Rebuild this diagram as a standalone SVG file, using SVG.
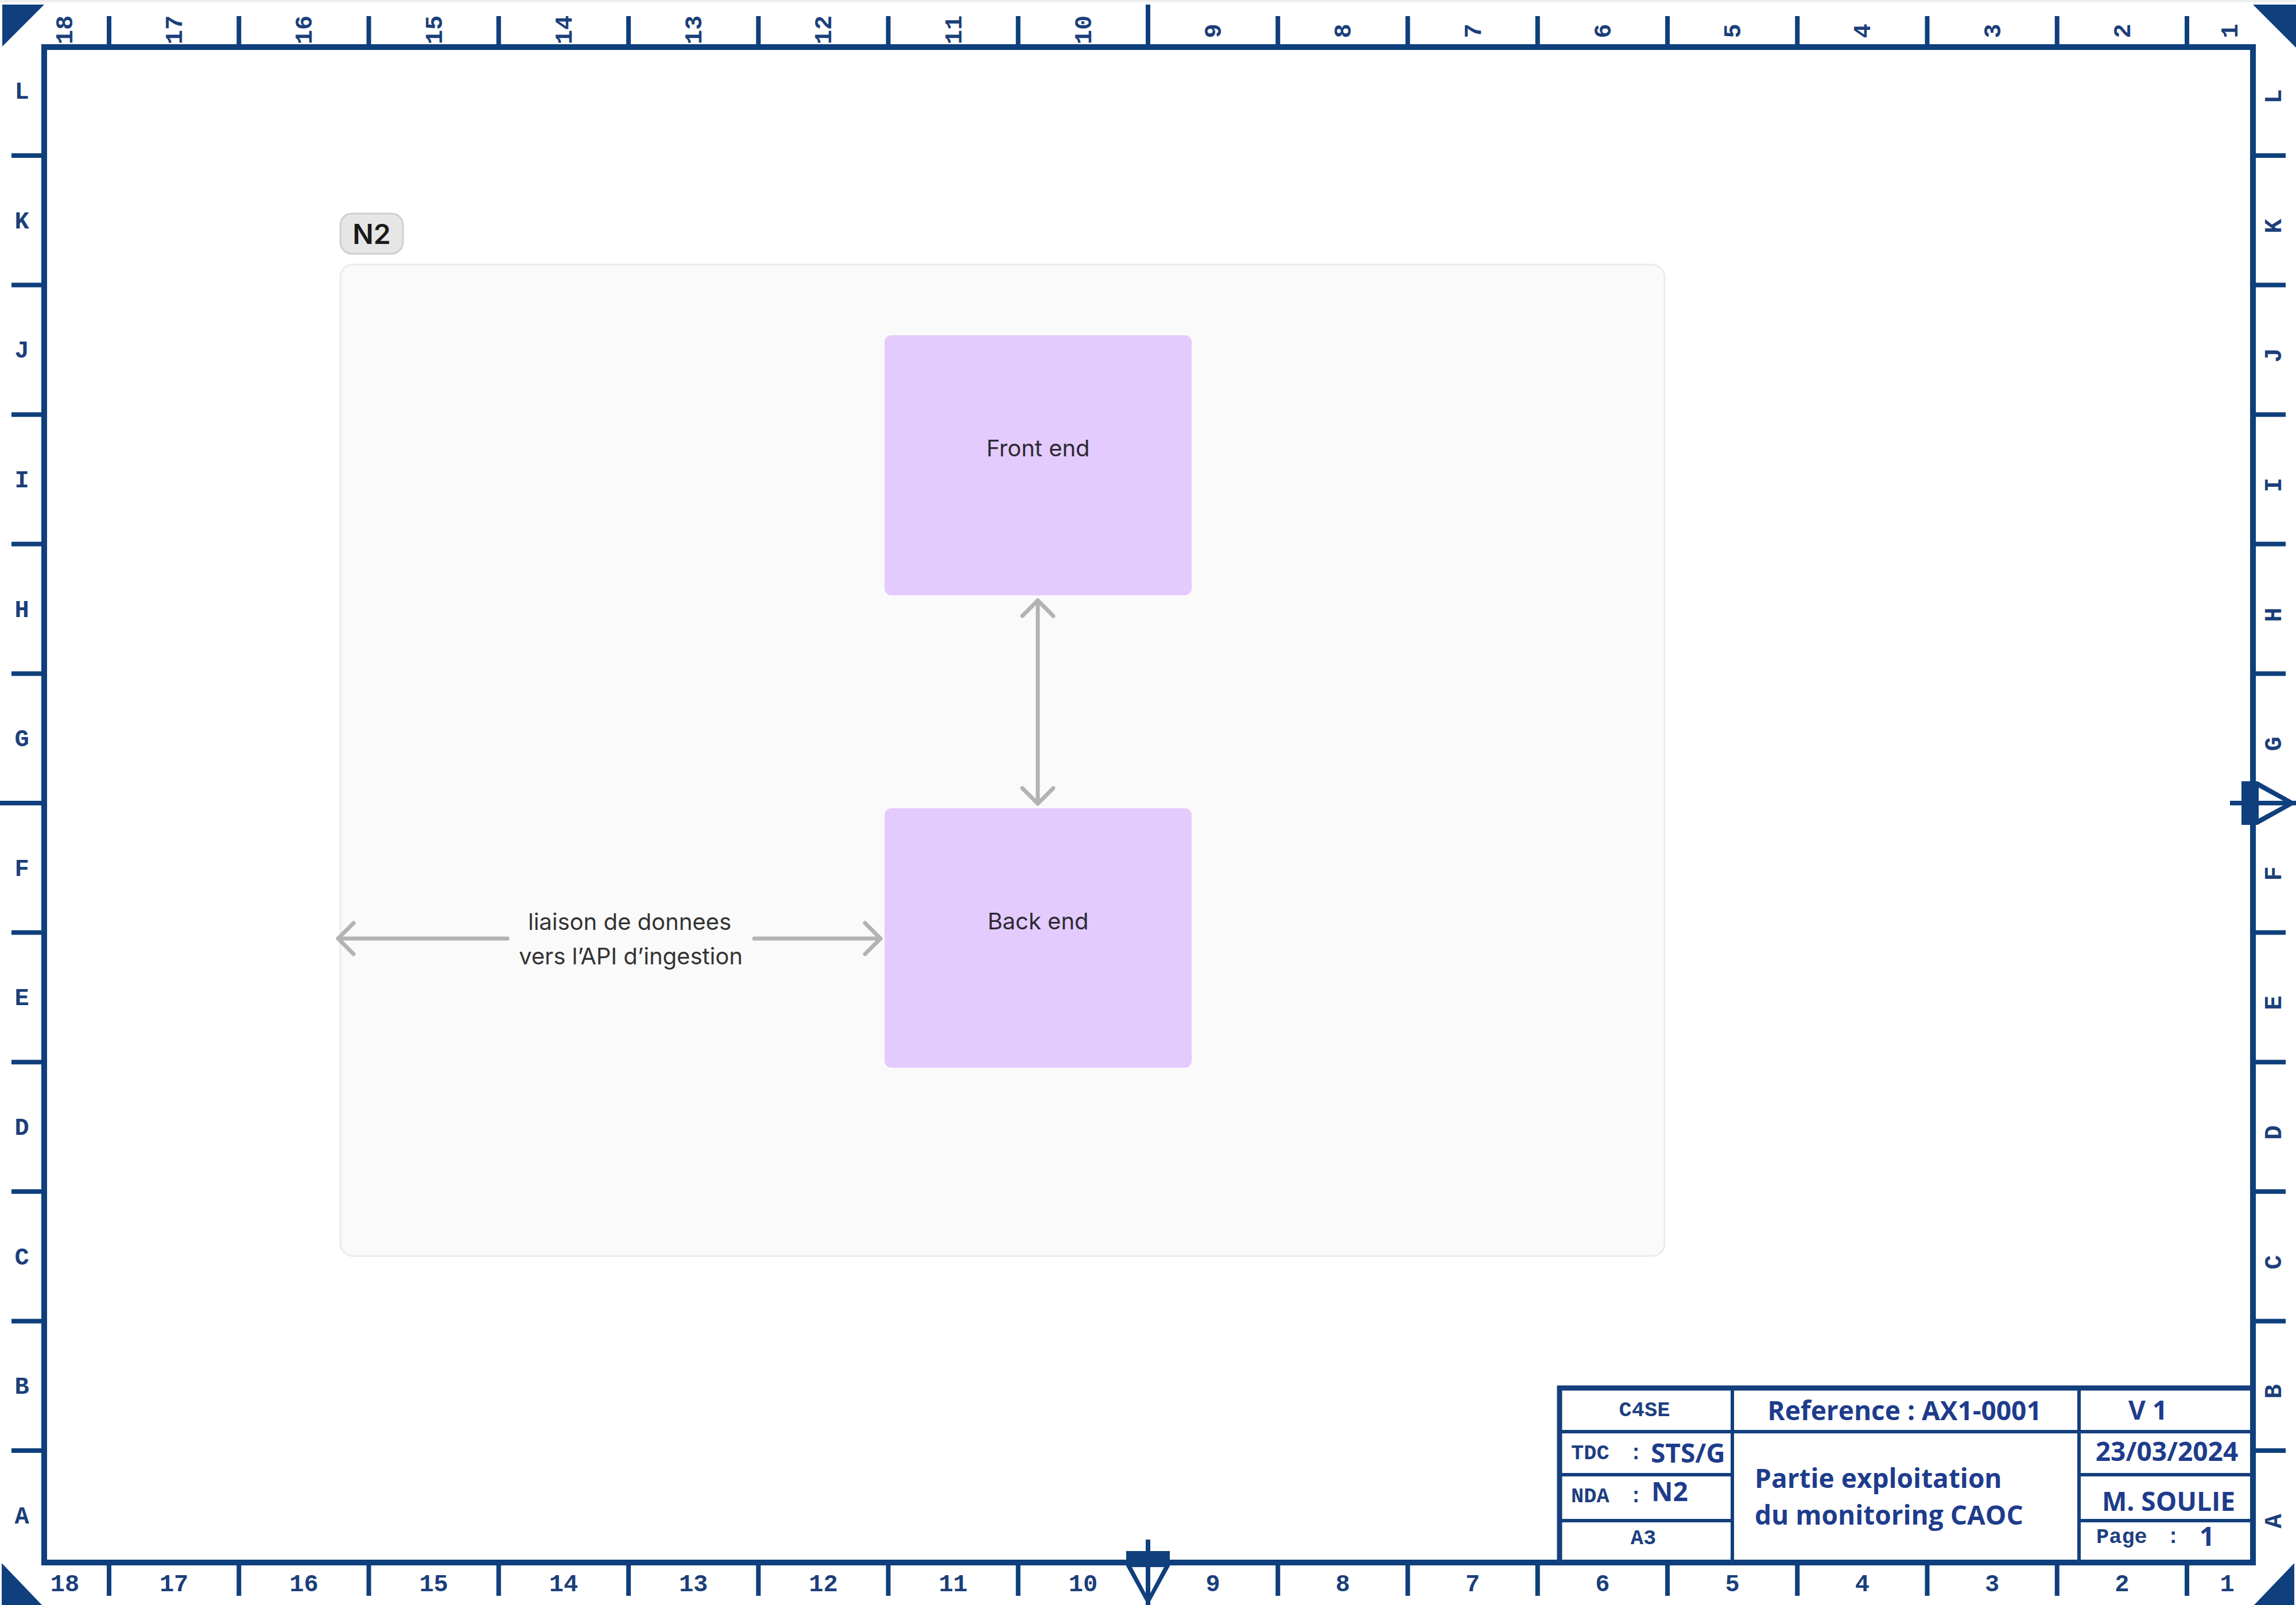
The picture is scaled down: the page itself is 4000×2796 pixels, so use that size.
<svg xmlns="http://www.w3.org/2000/svg" width="4000" height="2796" viewBox="0 0 4000 2796">
  <style>
    .frame { fill: none; stroke: #0f3f7c; stroke-width: 10; }
    .tick { stroke: #0f3f7c; stroke-width: 8; }
    .solid { fill: #0f3f7c; }
    .rl { font-family: "Liberation Mono", "DejaVu Sans Mono", monospace; font-weight: bold; font-size: 42px; fill: #1b3f7a; text-anchor: middle; }
    .tb-line { stroke: #143f7c; stroke-width: 6; }
    .tb-edge { stroke: #143f7c; stroke-width: 9; }
    .tb-mono { font-family: "Liberation Mono", "DejaVu Sans Mono", monospace; font-weight: bold; font-size: 37px; fill: #1d3f80; }
    .tb-sans { font-family: "Open Sans", "Noto Sans", "Liberation Sans", sans-serif; font-weight: 700; font-size: 46px; fill: #1e3c8c; }
    .group-box { fill: #fafafa; stroke: #ebebeb; stroke-width: 3; }
    .group-tag { fill: #e6e6e6; stroke: #cfcfcf; stroke-width: 3; }
    .group-tag-text { font-family: Inter, "Liberation Sans", sans-serif; font-weight: 600; font-size: 48px; fill: #1a1a1a; text-anchor: middle; }
    .node-box { fill: #e3cbfd; }
    .node-text { font-family: Inter, "Liberation Sans", sans-serif; font-size: 40px; fill: #2d2a32; text-anchor: middle; }
    .edge { fill: none; stroke: #b3b3b3; stroke-width: 7; stroke-linecap: round; }
    .edge-text { font-family: Inter, "Liberation Sans", sans-serif; font-size: 40px; fill: #333333; text-anchor: middle; }
  </style>
  <defs>
    <marker id="chevron" markerUnits="userSpaceOnUse" viewBox="-40 -40 80 80" markerWidth="80" markerHeight="80" refX="0" refY="0" orient="auto-start-reverse">
      <path d="M-27,-27 L0,0 L-27,27" fill="none" stroke="#b3b3b3" stroke-width="7" stroke-linecap="round" stroke-linejoin="round"/>
    </marker>
  </defs>

  <rect width="4000" height="2796" fill="#ffffff"/>
  <rect width="4000" height="4" fill="#eeeeee"/>

  <!-- drawing sheet frame -->
  <g id="sheet-frame">
    <rect class="frame" x="77" y="82" width="3848" height="2640"/>
    <!-- corner wedges -->
    <polygon class="solid" points="4,8 77,8 4,81"/>
    <polygon class="solid" points="3925,8 4000,8 4000,83"/>
    <polygon class="solid" points="3,2723 3,2796 73,2796"/>
    <polygon class="solid" points="3997,2723 3997,2796 3927,2796"/>

    <!-- column ticks, top and bottom -->
    <g id="column-ticks">
      <line class="tick" x1="2000" y1="8" x2="2000" y2="82"/>
      <path class="tick" d="M190,28V82 M416.25,28V82 M642.5,28V82 M868.75,28V82 M1095,28V82 M1321.25,28V82 M1547.5,28V82 M1773.75,28V82 M2226.25,28V82 M2452.5,28V82 M2678.75,28V82 M2905,28V82 M3131.25,28V82 M3357.5,28V82 M3583.75,28V82 M3810,28V82"/>
      <path class="tick" d="M190,2722V2780 M416.25,2722V2780 M642.5,2722V2780 M868.75,2722V2780 M1095,2722V2780 M1321.25,2722V2780 M1547.5,2722V2780 M1773.75,2722V2780 M2226.25,2722V2780 M2452.5,2722V2780 M2678.75,2722V2780 M2905,2722V2780 M3131.25,2722V2780 M3357.5,2722V2780 M3583.75,2722V2780 M3810,2722V2780"/>
    </g>

    <!-- row ticks, left and right -->
    <g id="row-ticks">
      <line class="tick" x1="0" y1="1399" x2="77" y2="1399"/>
      <path class="tick" d="M20,271H77 M20,496.6H77 M20,722.2H77 M20,947.8H77 M20,1173.4H77 M20,1624.6H77 M20,1850.2H77 M20,2075.8H77 M20,2301.4H77 M20,2527H77"/>
      <path class="tick" d="M3925,271H3982 M3925,496.6H3982 M3925,722.2H3982 M3925,947.8H3982 M3925,1173.4H3982 M3925,1624.6H3982 M3925,1850.2H3982 M3925,2075.8H3982 M3925,2301.4H3982 M3925,2527H3982"/>
    </g>

    <!-- centring marks -->
    <g id="centre-mark-right">
      <rect class="solid" x="3905" y="1361" width="28" height="76"/>
      <polygon class="solid" points="3933,1361 4001,1399 3933,1437"/>
      <polygon fill="#ffffff" points="3935,1372 3985,1399 3935,1426"/>
      <line class="tick" x1="3885" y1="1399" x2="4000" y2="1399"/>
    </g>
    <g id="centre-mark-bottom">
      <rect class="solid" x="1962" y="2702" width="76" height="26"/>
      <polygon class="solid" points="1962,2728 2038,2728 2000,2797"/>
      <polygon fill="#ffffff" points="1972,2730 2028,2730 2000,2783"/>
      <line class="tick" x1="2000" y1="2682" x2="2000" y2="2796"/>
    </g>

    <!-- column numbers, top (rotated) -->
    <g id="column-labels-top">
      <text class="rl" transform="translate(112,52) rotate(-90)" y="14">18</text>
      <text class="rl" transform="translate(303.1,52) rotate(-90)" y="14">17</text>
      <text class="rl" transform="translate(529.4,52) rotate(-90)" y="14">16</text>
      <text class="rl" transform="translate(755.6,52) rotate(-90)" y="14">15</text>
      <text class="rl" transform="translate(981.9,52) rotate(-90)" y="14">14</text>
      <text class="rl" transform="translate(1208.1,52) rotate(-90)" y="14">13</text>
      <text class="rl" transform="translate(1434.4,52) rotate(-90)" y="14">12</text>
      <text class="rl" transform="translate(1660.6,52) rotate(-90)" y="14">11</text>
      <text class="rl" transform="translate(1886.9,52) rotate(-90)" y="14">10</text>
      <text class="rl" transform="translate(2113.1,54) rotate(-90)" y="14">9</text>
      <text class="rl" transform="translate(2339.4,54) rotate(-90)" y="14">8</text>
      <text class="rl" transform="translate(2565.6,54) rotate(-90)" y="14">7</text>
      <text class="rl" transform="translate(2791.9,54) rotate(-90)" y="14">6</text>
      <text class="rl" transform="translate(3018.1,54) rotate(-90)" y="14">5</text>
      <text class="rl" transform="translate(3244.4,54) rotate(-90)" y="14">4</text>
      <text class="rl" transform="translate(3470.6,54) rotate(-90)" y="14">3</text>
      <text class="rl" transform="translate(3696.9,54) rotate(-90)" y="14">2</text>
      <text class="rl" transform="translate(3884,54) rotate(-90)" y="14">1</text>
    </g>

    <!-- column numbers, bottom -->
    <g id="column-labels-bottom">
      <text class="rl" x="113" y="2772">18</text>
      <text class="rl" x="303.1" y="2772">17</text>
      <text class="rl" x="529.4" y="2772">16</text>
      <text class="rl" x="755.6" y="2772">15</text>
      <text class="rl" x="981.9" y="2772">14</text>
      <text class="rl" x="1208.1" y="2772">13</text>
      <text class="rl" x="1434.4" y="2772">12</text>
      <text class="rl" x="1660.6" y="2772">11</text>
      <text class="rl" x="1886.9" y="2772">10</text>
      <text class="rl" x="2113.1" y="2772">9</text>
      <text class="rl" x="2339.4" y="2772">8</text>
      <text class="rl" x="2565.6" y="2772">7</text>
      <text class="rl" x="2791.9" y="2772">6</text>
      <text class="rl" x="3018.1" y="2772">5</text>
      <text class="rl" x="3244.4" y="2772">4</text>
      <text class="rl" x="3470.6" y="2772">3</text>
      <text class="rl" x="3696.9" y="2772">2</text>
      <text class="rl" x="3880" y="2772">1</text>
    </g>

    <!-- row letters, left -->
    <g id="row-labels-left">
      <text class="rl" x="38" y="172">L</text>
      <text class="rl" x="38" y="398">K</text>
      <text class="rl" x="38" y="623">J</text>
      <text class="rl" x="38" y="849">I</text>
      <text class="rl" x="38" y="1075">H</text>
      <text class="rl" x="38" y="1300">G</text>
      <text class="rl" x="38" y="1526">F</text>
      <text class="rl" x="38" y="1751">E</text>
      <text class="rl" x="38" y="1977">D</text>
      <text class="rl" x="38" y="2203">C</text>
      <text class="rl" x="38" y="2428">B</text>
      <text class="rl" x="38" y="2654">A</text>
    </g>

    <!-- row letters, right (rotated) -->
    <g id="row-labels-right">
      <text class="rl" transform="translate(3960,168) rotate(-90)" y="14">L</text>
      <text class="rl" transform="translate(3960,394) rotate(-90)" y="14">K</text>
      <text class="rl" transform="translate(3960,619) rotate(-90)" y="14">J</text>
      <text class="rl" transform="translate(3960,845) rotate(-90)" y="14">I</text>
      <text class="rl" transform="translate(3960,1071) rotate(-90)" y="14">H</text>
      <text class="rl" transform="translate(3960,1296) rotate(-90)" y="14">G</text>
      <text class="rl" transform="translate(3960,1522) rotate(-90)" y="14">F</text>
      <text class="rl" transform="translate(3960,1747) rotate(-90)" y="14">E</text>
      <text class="rl" transform="translate(3960,1973) rotate(-90)" y="14">D</text>
      <text class="rl" transform="translate(3960,2199) rotate(-90)" y="14">C</text>
      <text class="rl" transform="translate(3960,2424) rotate(-90)" y="14">B</text>
      <text class="rl" transform="translate(3960,2650) rotate(-90)" y="14">A</text>
    </g>
  </g>

  <!-- title block -->
  <g id="title-block">
    <line class="tb-edge" x1="2713" y1="2418" x2="3925" y2="2418"/>
    <line class="tb-edge" x1="2717" y1="2414" x2="2717" y2="2722"/>
    <line class="tb-line" x1="3018" y1="2418" x2="3018" y2="2722"/>
    <line class="tb-line" x1="3622" y1="2418" x2="3622" y2="2722"/>
    <path class="tb-line" d="M2717,2494H3925 M2717,2569H3018 M2717,2649H3018 M3622,2569H3925 M3622,2649H3925"/>

    <text class="tb-mono" x="2865" y="2467" text-anchor="middle">C4SE</text>
    <text class="tb-mono" x="2737" y="2542">TDC</text>
    <text class="tb-mono" x="2850" y="2542" text-anchor="middle">:</text>
    <text class="tb-sans" x="2876" y="2548">STS/G</text>
    <text class="tb-mono" x="2737" y="2617">NDA</text>
    <text class="tb-mono" x="2850" y="2617" text-anchor="middle">:</text>
    <text class="tb-sans" x="2877" y="2615">N2</text>
    <text class="tb-mono" x="2863" y="2690" text-anchor="middle">A3</text>

    <text class="tb-sans" x="3318" y="2474" text-anchor="middle">Reference : AX1-0001</text>
    <text class="tb-sans" x="3057" y="2592">Partie exploitation</text>
    <text class="tb-sans" x="3057" y="2656">du monitoring CAOC</text>

    <text class="tb-sans" x="3742" y="2473" text-anchor="middle">V 1</text>
    <text class="tb-sans" x="3775" y="2545" text-anchor="middle">23/03/2024</text>
    <text class="tb-sans" x="3778" y="2632" text-anchor="middle">M. SOULIE</text>
    <text class="tb-mono" x="3652" y="2688">Page</text>
    <text class="tb-mono" x="3786" y="2688" text-anchor="middle">:</text>
    <text class="tb-sans" x="3845" y="2693" text-anchor="middle">1</text>
  </g>

  <!-- N2 boundary -->
  <g id="group-n2">
    <rect class="group-box" x="593" y="461" width="2307" height="1727" rx="22"/>
    <rect class="group-tag" x="593" y="372" width="109" height="70" rx="20"/>
    <text class="group-tag-text" x="647.5" y="425">N2</text>
  </g>

  <g id="node-front-end">
    <rect class="node-box" x="1541" y="584" width="535" height="453" rx="12"/>
    <text class="node-text" x="1808.5" y="795">Front end</text>
  </g>

  <g id="node-back-end">
    <rect class="node-box" x="1541" y="1408" width="535" height="452" rx="12"/>
    <text class="node-text" x="1808.5" y="1619">Back end</text>
  </g>

  <g id="connectors">
    <path class="edge" d="M1808,1046 V1400" marker-start="url(#chevron)" marker-end="url(#chevron)"/>
    <path class="edge" d="M589,1635 H884 M1314,1635 H1534" marker-start="url(#chevron)" marker-end="url(#chevron)"/>
    <text class="edge-text" x="1097" y="1620">liaison de donnees</text>
    <text class="edge-text" x="1099" y="1680">vers l’API d’ingestion</text>
  </g>
</svg>
